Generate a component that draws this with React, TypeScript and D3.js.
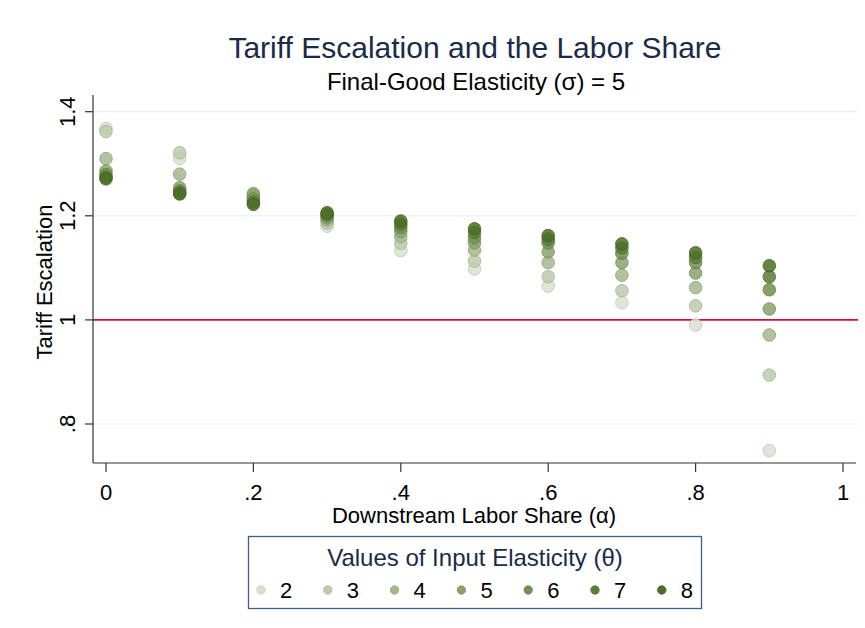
import React, { useEffect, useRef } from 'react';
import * as d3 from 'd3';

// downstream labor share (alpha) on the x axis
const alphas = [0, 0.1, 0.2, 0.3, 0.4, 0.5, 0.6, 0.7, 0.8, 0.9];
// input elasticity values (theta), one series each
const thetas = [2, 3, 4, 5, 6, 7, 8];

// tariff escalation by theta
const theta2 = [1.368, 1.310, 1.228, 1.180, 1.133, 1.098, 1.065, 1.033, 0.990, 0.749];
const theta3 = [1.362, 1.321, 1.236, 1.186, 1.147, 1.113, 1.083, 1.056, 1.027, 0.894];
const theta4 = [1.310, 1.280, 1.243, 1.192, 1.160, 1.134, 1.110, 1.086, 1.062, 0.971];
const theta5 = [1.286, 1.254, 1.240, 1.196, 1.170, 1.148, 1.131, 1.110, 1.090, 1.021];
const theta6 = [1.279, 1.248, 1.232, 1.200, 1.178, 1.158, 1.148, 1.128, 1.110, 1.058];
const theta7 = [1.274, 1.244, 1.226, 1.203, 1.184, 1.168, 1.155, 1.138, 1.120, 1.083];
const theta8 = [1.271, 1.242, 1.222, 1.206, 1.190, 1.175, 1.162, 1.146, 1.129, 1.104];
const series = [theta2, theta3, theta4, theta5, theta6, theta7, theta8];

const xTicks = [0, 0.2, 0.4, 0.6, 0.8, 1];
const yTicks = [0.8, 1, 1.2, 1.4];

const colors = ['#d9e2d0', '#bccbab', '#a3b78c', '#8aa36f', '#729053', '#5b7e3a', '#4a6f25'];

const W = 865;
const H = 628;
const FONT = "'Liberation Sans', Arial, sans-serif";

const fmt = (v: number) => {
  if (v === 0) return '0';
  if (v === 1) return '1';
  let s = String(+v.toFixed(2));
  return s.replace(/^0\./, '.');
};

export default function App() {
  const ref = useRef<SVGSVGElement>(null);

  useEffect(() => {
    const svg = d3.select(ref.current);
    svg.selectAll('*').remove();

    const left = 93, right = 858, top = 95, bottom = 463;

    const x = d3.scaleLinear().domain([0, 1]).range([106, 843]);
    const y = d3.scaleLinear().domain([0.8, 1.4]).range([424, 111.7]);

    svg.append('rect').attr('width', W).attr('height', H).attr('fill', '#fff');

    // titles
    svg.append('text')
      .attr('x', 475).attr('y', 58)
      .attr('text-anchor', 'middle')
      .style('font-family', FONT).style('font-size', '30px')
      .attr('fill', '#1a2b47')
      .text('Tariff Escalation and the Labor Share');
    svg.append('text')
      .attr('x', 476).attr('y', 90)
      .attr('text-anchor', 'middle')
      .style('font-family', FONT).style('font-size', '24px')
      .attr('fill', '#000')
      .text('Final-Good Elasticity (σ) = 5');

    // grid lines
    svg.append('g').selectAll('line')
      .data(yTicks.filter(d => d !== 1))
      .enter().append('line')
      .attr('x1', left).attr('x2', right)
      .attr('y1', d => y(d)).attr('y2', d => y(d))
      .attr('stroke', '#e6eff2').attr('stroke-width', 1.2);

    // reference line at 1
    svg.append('line')
      .attr('x1', left).attr('x2', right)
      .attr('y1', y(1)).attr('y2', y(1))
      .attr('stroke', '#d0103a').attr('stroke-width', 1.6);

    // y axis
    const gy = svg.append('g').attr('transform', `translate(${left},0)`);
    gy.append('line').attr('x1', 0).attr('x2', 0).attr('y1', top).attr('y2', bottom)
      .attr('stroke', '#333').attr('stroke-width', 1.2);
    gy.selectAll('.tick').data(yTicks).enter().append('line')
      .attr('x1', -8).attr('x2', 0)
      .attr('y1', d => y(d)).attr('y2', d => y(d))
      .attr('stroke', '#333').attr('stroke-width', 1.2);
    gy.selectAll('.lbl').data(yTicks).enter().append('text')
      .attr('transform', d => `translate(-18,${y(d)}) rotate(-90)`)
      .attr('text-anchor', 'middle')
      .style('font-family', FONT).style('font-size', '22px')
      .attr('fill', '#000')
      .text(d => fmt(d));

    svg.append('text')
      .attr('transform', `translate(52,282) rotate(-90)`)
      .attr('text-anchor', 'middle')
      .style('font-family', FONT).style('font-size', '22px')
      .attr('fill', '#000')
      .text('Tariff Escalation');

    // x axis
    const gx = svg.append('g').attr('transform', `translate(0,${bottom})`);
    gx.append('line').attr('x1', left).attr('x2', 856).attr('y1', 0).attr('y2', 0)
      .attr('stroke', '#333').attr('stroke-width', 1.2);
    gx.selectAll('.tick').data(xTicks).enter().append('line')
      .attr('x1', d => x(d)).attr('x2', d => x(d))
      .attr('y1', 0).attr('y2', 9)
      .attr('stroke', '#333').attr('stroke-width', 1.2);
    gx.selectAll('.lbl').data(xTicks).enter().append('text')
      .attr('x', d => x(d)).attr('y', 37)
      .attr('text-anchor', 'middle')
      .style('font-family', FONT).style('font-size', '22px')
      .attr('fill', '#000')
      .text(d => fmt(d));

    svg.append('text')
      .attr('x', 474).attr('y', 523)
      .attr('text-anchor', 'middle')
      .style('font-family', FONT).style('font-size', '22px')
      .attr('fill', '#000')
      .text('Downstream Labor Share (α)');

    // points, lightest first
    series.forEach((vals, i) => {
      const c = colors[i];
      svg.append('g').selectAll('circle')
        .data(vals)
        .enter().append('circle')
        .attr('cx', (d, j) => x(alphas[j]))
        .attr('cy', d => y(d))
        .attr('r', 6.3)
        .attr('fill', c).attr('fill-opacity', 0.85)
        .attr('stroke', d3.color(c)!.darker(0.35).toString())
        .attr('stroke-opacity', 0.8)
        .attr('stroke-width', 1);
    });

    // legend
    const lg = svg.append('g');
    lg.append('rect')
      .attr('x', 248.5).attr('y', 536.5).attr('width', 453).attr('height', 72)
      .attr('fill', '#fff').attr('stroke', '#3e5f8a').attr('stroke-width', 1.3);
    lg.append('text')
      .attr('x', 475).attr('y', 566)
      .attr('text-anchor', 'middle')
      .style('font-family', FONT).style('font-size', '24px')
      .attr('fill', '#1a2b47')
      .text('Values of Input Elasticity (θ)');
    const item = lg.selectAll('.item').data(thetas).enter().append('g')
      .attr('transform', (d, i) => `translate(${261 + i * 66.8},590)`);
    item.append('circle')
      .attr('r', 4.2)
      .attr('fill', (d, i) => colors[i])
      .attr('stroke', (d, i) => d3.color(colors[i])!.darker(0.3).toString())
      .attr('stroke-width', 0.8);
    item.append('text')
      .attr('x', 19).attr('y', 8)
      .style('font-family', FONT).style('font-size', '22px')
      .attr('fill', '#000')
      .text(d => String(d));
  }, []);

  return (
    <svg ref={ref} width={W} height={H}
      style={{ position: 'absolute', left: 0, top: 0, display: 'block' }} />
  );
}
